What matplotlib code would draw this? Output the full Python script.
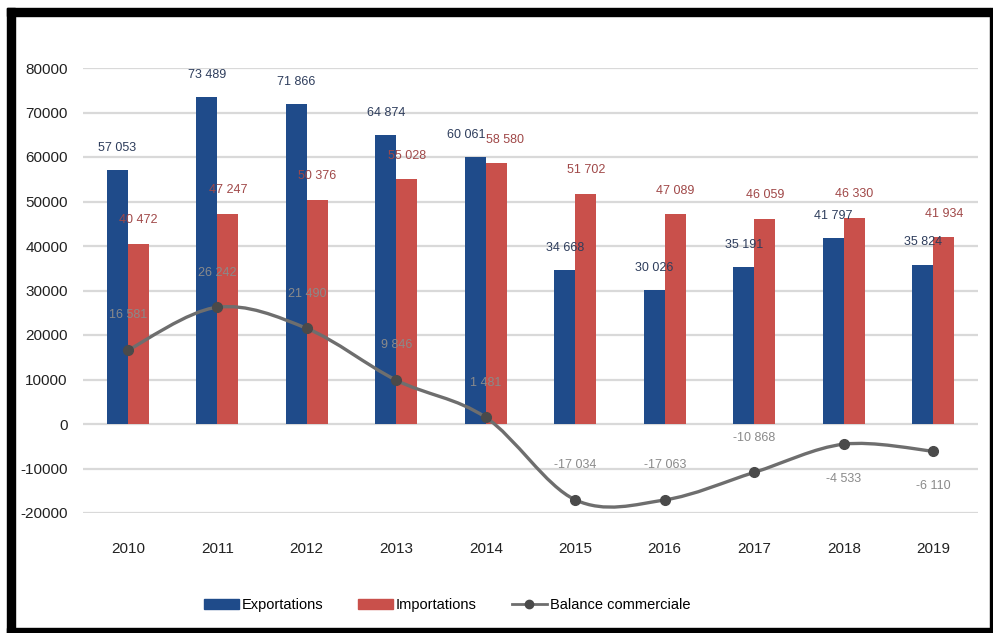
import numpy as np
import matplotlib
matplotlib.use("Agg")
import matplotlib.pyplot as plt
from matplotlib.patches import Patch, Rectangle, PathPatch
from matplotlib.lines import Line2D
from matplotlib.path import Path

years = ["2010", "2011", "2012", "2013", "2014", "2015", "2016", "2017", "2018", "2019"]
exportations = [57053, 73489, 71866, 64874, 60061, 34668, 30026, 35191, 41797, 35824]
importations = [40472, 47247, 50376, 55028, 58580, 51702, 47089, 46059, 46330, 41934]
balance = [16581, 26242, 21490, 9846, 1481, -17034, -17063, -10868, -4533, -6110]
# +1 = label above the point, -1 = below
balance_label_side = [1, 1, 1, 1, 1, 1, 1, 1, -1, -1]
yticks = [-20000, -10000, 0, 10000, 20000, 30000, 40000, 50000, 60000, 70000, 80000]

blue = "#1f4b8a"
red = "#c9504b"
gray = "#6e6e6e"

plt.rcParams['font.family'] = ['Liberation Sans', 'DejaVu Sans']

def fmt(v):
    return f"{v:,}".replace(",", " ")

fig = plt.figure(figsize=(9.93, 6.33), dpi=100)
ax = fig.add_axes([83 / 993, 1 - 513 / 633, 895 / 993, 445 / 633])

x = np.arange(len(years))
w = 0.235
ax.bar(x - w / 2, exportations, w, color=blue, zorder=2)
ax.bar(x + w / 2, importations, w, color=red, zorder=2)

for i in range(len(years)):
    # the two 2014 labels nearly collide, push them apart a bit
    dx = 6.5 if years[i] == "2014" else 0
    ax.annotate(fmt(exportations[i]), (x[i] - w / 2, exportations[i]), xytext=(-dx, 16),
                textcoords="offset points", ha="center", va="center", fontsize=9, color="#2e3d5c", zorder=5)
    ax.annotate(fmt(importations[i]), (x[i] + w / 2, importations[i]), xytext=(dx, 17),
                textcoords="offset points", ha="center", va="center", fontsize=9, color="#a04848", zorder=5)

# smoothed balance line (bezier through the data points)
pts = np.column_stack([x, balance]).astype(float)
n = len(pts)
verts = [pts[0]]
codes = [Path.MOVETO]
for i in range(n - 1):
    p0 = pts[i - 1] if i > 0 else pts[i]
    p1 = pts[i]
    p2 = pts[i + 1]
    p3 = pts[i + 2] if i + 2 < n else pts[i + 1]
    verts += [p1 + (p2 - p0) / 6, p2 - (p3 - p1) / 6, p2]
    codes += [Path.CURVE4] * 3
ax.add_patch(PathPatch(Path(verts, codes), fill=False, edgecolor=gray, lw=2.4, zorder=3))
ax.plot(x, balance, "o", color="#4a4a4a", markersize=7, zorder=4)

for i in range(len(years)):
    ax.annotate(fmt(balance[i]), (x[i], balance[i]), xytext=(0, 25 * balance_label_side[i]),
                textcoords="offset points", ha="center", va="center", fontsize=9, color="#8a8a8a", zorder=5)

ax.set_xlim(-0.5, len(years) - 0.5)
ax.set_ylim(-20000, 80000)
ax.set_yticks(yticks)
ax.set_yticklabels([str(t) for t in yticks], fontsize=11, color="#222222")
ax.set_xticks(x)
ax.set_xticklabels(years, fontsize=11, color="#222222")
ax.tick_params(axis="y", length=0, pad=11)
ax.tick_params(axis="x", length=0, pad=21)
ax.grid(axis="y", color="#d9d9d9", lw=1.6, zorder=0)
ax.set_axisbelow(True)
for s in ax.spines.values():
    s.set_visible(False)

handles = [Patch(color=blue), Patch(color=red),
           Line2D([], [], color=gray, lw=2, marker="o", markersize=6, markerfacecolor="#4a4a4a",
                  markeredgecolor="#4a4a4a")]
fig.legend(handles, ["Exportations", "Importations", "Balance commerciale"], loc="center",
           bbox_to_anchor=(447 / 993, 1 - 605 / 633), ncol=3, frameon=False, fontsize=10.5,
           handlelength=2.4, handletextpad=0.2, columnspacing=2.4)

# black frame around the picture
H = 633.0
W = 993.0
for (x0, y0, ww, hh) in [(7, 8, 983, 8), (7, 8, 8, 625), (7, 628, 986, 5), (990, 8, 3, 625)]:
    fig.patches.append(Rectangle((x0 / W, 1 - (y0 + hh) / H), ww / W, hh / H,
                                 transform=fig.transFigure, color="black", zorder=10))

fig.savefig("out.png", dpi=100)
